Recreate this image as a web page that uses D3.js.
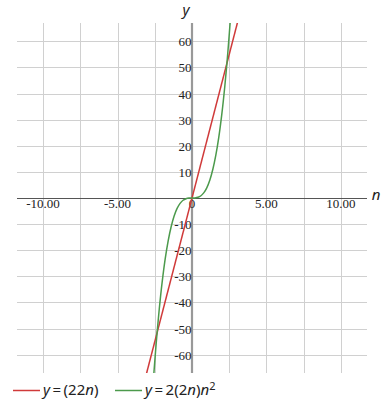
<!DOCTYPE html>
<html>
<head>
<meta charset="utf-8">
<script src="https://cdn.jsdelivr.net/npm/d3@7"></script>
<style>
  body { margin: 0; background: #fff; }
  svg { display: block; }
  .tick-label { font-family: "Liberation Serif", serif; font-size: 13px; fill: #222; }
  .math { font-family: "Noto Sans", sans-serif; font-size: 15px; fill: #222; }
</style>
</head>
<body>
<svg id="chart"></svg>
<script>
// domain of the plot
const xDomain = [-11.75, 11.75];
const yDomain = [-67, 67];

// grid and tick values
const xGrid = [-10, -7.5, -5, -2.5, 2.5, 5, 7.5, 10];
const xTickLabels = [-10, -5, 5, 10];
const yTicks = [-60, -50, -40, -30, -20, -10, 10, 20, 30, 40, 50, 60];

// series: y = 22n (straight line, endpoints at plot edges)
const redN = [-3.05, 3.05];
const redY = [-67.1, 67.1];

// series: y = 2(2n)n^2
const greenN = [-2.56, -2.4, -2.2, -2.0, -1.8, -1.6, -1.4, -1.2, -1.0, -0.8, -0.6, -0.4, -0.2, 0,
  0.2, 0.4, 0.6, 0.8, 1.0, 1.2, 1.4, 1.6, 1.8, 2.0, 2.2, 2.4, 2.56];
const greenY = [-67.1, -55.3, -42.6, -32, -23.3, -16.4, -11, -6.9, -4, -2.05, -0.86, -0.26, -0.03, 0,
  0.03, 0.26, 0.86, 2.05, 4, 6.9, 11, 16.4, 23.3, 32, 42.6, 55.3, 67.1];

const width = 384, height = 409;
const plot = { left: 17, right: 367, top: 23, bottom: 373 };

const svg = d3.select("#chart").attr("width", width).attr("height", height);

const x = d3.scaleLinear().domain(xDomain).range([plot.left, plot.right]);
const y = d3.scaleLinear().domain(yDomain).range([plot.bottom, plot.top]);

// clip path for curves
svg.append("defs").append("clipPath").attr("id", "clip")
  .append("rect")
  .attr("x", plot.left).attr("y", plot.top)
  .attr("width", plot.right - plot.left).attr("height", plot.bottom - plot.top);

// grid lines
const grid = svg.append("g").attr("stroke", "#d0d0d0").attr("stroke-width", 1);
grid.selectAll("line.vx").data(xGrid).join("line")
  .attr("x1", d => Math.round(x(d)) + 0.5).attr("x2", d => Math.round(x(d)) + 0.5)
  .attr("y1", plot.top).attr("y2", plot.bottom);
grid.selectAll("line.hy").data(yTicks).join("line")
  .attr("y1", d => Math.round(y(d)) + 0.5).attr("y2", d => Math.round(y(d)) + 0.5)
  .attr("x1", plot.left).attr("x2", plot.right);

// x axis (dark, thin)
svg.append("line")
  .attr("x1", plot.left).attr("x2", plot.right)
  .attr("y1", Math.round(y(0)) + 0.5).attr("y2", Math.round(y(0)) + 0.5)
  .attr("stroke", "#555").attr("stroke-width", 1);

// y axis (gray, thicker)
svg.append("line")
  .attr("x1", x(0)).attr("x2", x(0))
  .attr("y1", plot.top).attr("y2", plot.bottom)
  .attr("stroke", "#999").attr("stroke-width", 2.2);

// tick labels (plain hyphen for negatives, like the reference)
const fmt = d => d3.format(".2f")(d).replace("\u2212", "-");
svg.append("g").selectAll("text").data(xTickLabels).join("text")
  .attr("class", "tick-label")
  .attr("x", d => x(d)).attr("y", y(0) + 10)
  .attr("text-anchor", "middle")
  .text(fmt);

svg.append("text").attr("class", "tick-label")
  .attr("x", x(0)).attr("y", y(0) + 10)
  .attr("text-anchor", "middle").text("0");

svg.append("g").selectAll("text").data(yTicks).join("text")
  .attr("class", "tick-label")
  .attr("x", x(0) - 0.5).attr("y", d => y(d) + 5)
  .attr("text-anchor", "end")
  .text(d => d);

// curves
const line = d3.line().x(d => x(d[0])).y(d => y(d[1]));
const curves = svg.append("g").attr("clip-path", "url(#clip)").attr("fill", "none");

curves.append("path")
  .datum(d3.zip(redN, redY))
  .attr("d", line)
  .attr("stroke", "#d03a3a").attr("stroke-width", 1.5);

curves.append("path")
  .datum(d3.zip(greenN, greenY))
  .attr("d", line.curve(d3.curveCatmullRom))
  .attr("stroke", "#4c9a4c").attr("stroke-width", 1.5);

// axis names
svg.append("text").attr("class", "math")
  .attr("x", 186).attr("y", 15)
  .attr("text-anchor", "middle").style("font-style", "italic").text("y");
svg.append("text").attr("class", "math")
  .attr("x", 376).attr("y", 200)
  .attr("text-anchor", "middle").style("font-style", "italic").text("n");

// legend
const legendItems = [
  { color: "#d03a3a", x: 13, parts: [["y", true], ["\u2009=\u2009(22", false], ["n", true], [")", false]] },
  { color: "#4c9a4c", x: 115, parts: [["y", true], ["\u2009=\u20092(2", false], ["n", true], [")", false], ["n", true], ["2", false, true]] }
];
const legend = svg.append("g");
legendItems.forEach(item => {
  legend.append("line")
    .attr("x1", item.x).attr("x2", item.x + 27)
    .attr("y1", 390.5).attr("y2", 390.5)
    .attr("stroke", item.color).attr("stroke-width", 1.5);
  const t = legend.append("text").attr("class", "math")
    .attr("x", item.x + 30).attr("y", 395);
  item.parts.forEach(p => {
    const s = t.append("tspan").text(p[0]);
    if (p[1]) s.style("font-style", "italic");
    if (p[2]) s.attr("dy", -5).style("font-size", "11px");
  });
});
</script>
</body>
</html>
